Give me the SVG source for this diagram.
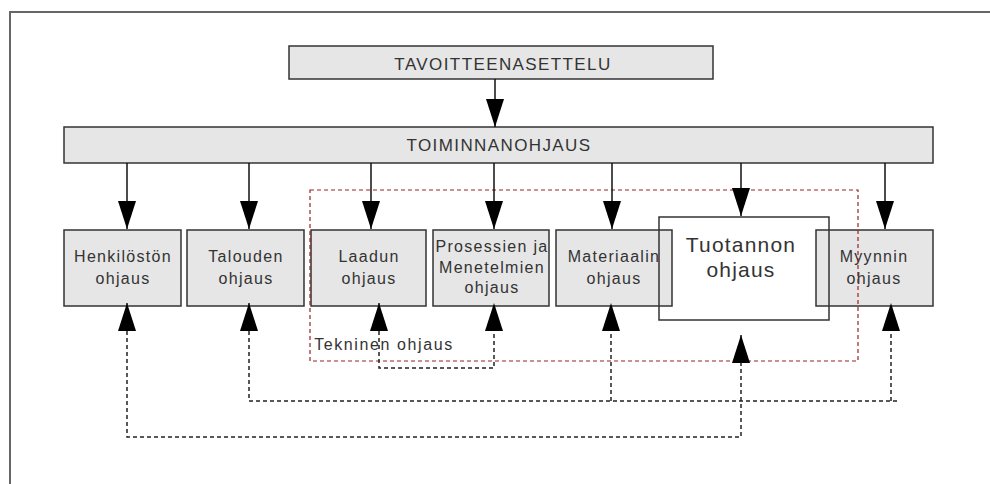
<svg xmlns="http://www.w3.org/2000/svg" width="990" height="484" viewBox="0 0 990 484">
<defs>
<style>
.box{fill:#e6e6e6;stroke:#333;stroke-width:1.5}
.open{fill:none;stroke:#333;stroke-width:1.5}
.t{font-family:"Liberation Sans",Arial,sans-serif;font-size:16px;fill:#333;text-anchor:middle;letter-spacing:1.3px}
.big{font-size:21px;letter-spacing:1.2px}
.solid{fill:none;stroke:#111;stroke-width:1.5}
.dash{fill:none;stroke:#222;stroke-width:1.5;stroke-dasharray:4 3}
.red{fill:none;stroke:#922;stroke-width:1.2;stroke-dasharray:4 3}
</style>
<marker id="ah" markerUnits="userSpaceOnUse" markerWidth="28" markerHeight="18" viewBox="0 0 28 18" refX="28" refY="9" orient="auto-start-reverse">
<path d="M0,0 L28,9 L0,18 z" fill="#000" stroke="none"/>
</marker>
</defs>
<rect width="990" height="484" fill="#fff"/>
<path d="M10,484 V12 H990" fill="none" stroke="#666" stroke-width="2"/>

<g id="tavoitteenasettelu"><rect class="box" x="289" y="46" width="424" height="33"/><text class="t" x="503" y="70" style="font-size:17px;letter-spacing:1.4px">TAVOITTEENASETTELU</text></g>
<g id="toiminnanohjaus"><rect class="box" x="64" y="127" width="869" height="36"/><text class="t" x="499" y="151" style="font-size:17px;letter-spacing:1.4px">TOIMINNANOHJAUS</text></g>

<g id="henkiloston"><rect class="box" x="64" y="230" width="117" height="76"/><text class="t" x="123" y="262">Henkilöstön</text><text class="t" x="123" y="284">ohjaus</text></g>
<g id="talouden"><rect class="box" x="187" y="230" width="117" height="76"/><text class="t" x="246" y="262">Talouden</text><text class="t" x="246" y="284">ohjaus</text></g>
<g id="laadun"><rect class="box" x="311" y="230" width="115" height="76"/><text class="t" x="369" y="262">Laadun</text><text class="t" x="369" y="284">ohjaus</text></g>
<g id="prosessien"><rect class="box" x="433" y="230" width="116" height="76"/><text class="t" x="492" y="252">Prosessien ja</text><text class="t" x="492" y="273">Menetelmien</text><text class="t" x="492" y="293">ohjaus</text></g>
<g id="materiaalin"><rect class="box" x="556" y="230" width="116" height="76"/><text class="t" x="614" y="262">Materiaalin</text><text class="t" x="614" y="284">ohjaus</text></g>
<g id="myynnin"><rect class="box" x="816" y="230" width="117" height="76"/><text class="t" x="874" y="262">Myynnin</text><text class="t" x="874" y="284">ohjaus</text></g>
<g id="tuotannon"><rect class="open" x="659" y="217" width="170" height="103"/><text class="t big" x="741" y="252">Tuotannon</text><text class="t big" x="741" y="277">ohjaus</text></g>

<g id="tekninen"><rect class="red" x="310" y="190" width="548" height="171"/><text class="t" x="384" y="350" style="letter-spacing:1.6px">Tekninen ohjaus</text></g>

<g id="connectors">
<path class="solid" d="M495,79 V127" marker-end="url(#ah)"/>
<path class="solid" d="M127,163 V229" marker-end="url(#ah)"/>
<path class="solid" d="M249,163 V229" marker-end="url(#ah)"/>
<path class="solid" d="M371,163 V229" marker-end="url(#ah)"/>
<path class="solid" d="M494,163 V229" marker-end="url(#ah)"/>
<path class="solid" d="M612,163 V229" marker-end="url(#ah)"/>
<path class="solid" d="M741,163 V216" marker-end="url(#ah)"/>
<path class="solid" d="M885,163 V229" marker-end="url(#ah)"/>
<path class="dash" d="M127,303 V437 H741 V335" marker-start="url(#ah)" marker-end="url(#ah)"/>
<path class="dash" d="M249,303 V401 H900" marker-start="url(#ah)"/>
<path class="dash" d="M611,401 V303" marker-end="url(#ah)"/>
<path class="dash" d="M891,401 V303" marker-end="url(#ah)"/>
<path class="dash" d="M379,303 V368 H494 V303" marker-start="url(#ah)" marker-end="url(#ah)"/>
</g>
</svg>
